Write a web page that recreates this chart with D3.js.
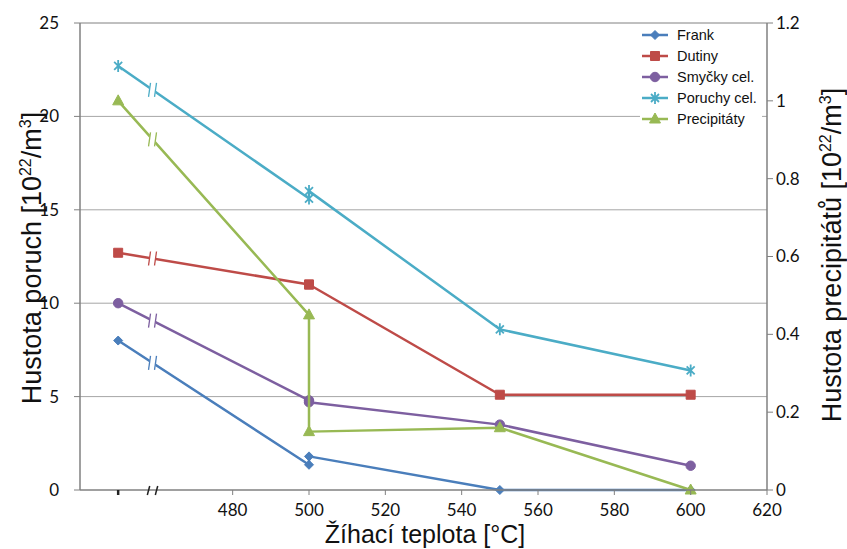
<!DOCTYPE html>
<html lang="cs">
<head>
<meta charset="UTF-8">
<title>Hustota poruch</title>
<script src="https://d3js.org/d3.v7.min.js"></script>
<style>
    body { margin: 0; background: #fff; }
    .tick-label { font-family: Lato, "Open Sans", sans-serif; font-size: 17px; fill: #111; }
    .axis-title { font-family: "Liberation Sans", Arial, sans-serif; font-size: 27px; fill: #111; }
    .x-title { font-size: 25px; }
    .legend-text { font-family: "Liberation Sans", Arial, sans-serif; font-size: 14.5px; fill: #111; }
</style>
</head>
<body>
<svg width="847" height="549"></svg>
<script>
// data (two points at 500 °C for each series)
const temps = [450, 500, 500, 550, 600];
const frank = [8.0, 1.35, 1.8, 0, 0];
const dutiny = [12.7, 11.0, 11.0, 5.1, 5.1];
const smycky = [10.0, 4.8, 4.7, 3.5, 1.3];
const poruchy = [22.7, 15.6, 16.0, 8.6, 6.4];
const precipitaty = [1.0, 0.45, 0.15, 0.16, 0];

const xTicks = [480, 500, 520, 540, 560, 580, 600, 620];
const leftTicks = [0, 5, 10, 15, 20, 25];
const rightTicks = [0, 0.2, 0.4, 0.6, 0.8, 1, 1.2];
const breakAt = 459;

const series = [
    { name: "Frank", values: frank, color: "#4a7ebb", marker: "diamond", axis: "left" },
    { name: "Dutiny", values: dutiny, color: "#be4b48", marker: "square", axis: "left" },
    { name: "Smyčky cel.", values: smycky, color: "#7d5fa0", marker: "circle", axis: "left" },
    { name: "Poruchy cel.", values: poruchy, color: "#4bacc6", marker: "star", axis: "left" },
    { name: "Precipitáty", values: precipitaty, color: "#98b954", marker: "triangle", axis: "right" }
];

const pLeft = 80, pRight = 767, pTop = 23, pBottom = 490;
const svg = d3.select("svg");

const x = d3.scaleLinear().domain([440, 620]).range([pLeft, pRight]);
const yL = d3.scaleLinear().domain([0, 25]).range([pBottom, pTop]);
const yR = d3.scaleLinear().domain([0, 1.2]).range([pBottom, pTop]);

// gridlines
svg.append("g").selectAll("line")
    .data(leftTicks.filter(d => d > 0))
    .join("line")
    .attr("x1", pLeft).attr("x2", pRight)
    .attr("y1", d => yL(d)).attr("y2", d => yL(d))
    .attr("stroke", d => d === 25 ? "#808080" : "#a6a6a6")
    .attr("stroke-width", 1);

function markerPath(type) {
    if (type === "diamond") return "M0,-4.5L4.5,0L0,4.5L-4.5,0Z";
    if (type === "square") return "M-4.5,-4.5H4.5V4.5H-4.5Z";
    if (type === "triangle") return "M0,-6L5.5,4L-5.5,4Z";
    if (type === "circle") return d3.symbol(d3.symbolCircle, 70)();
    return "M-4,-4L4,4M-4,4L4,-4M0,-6V6";
}

series.forEach(s => {
    const y = s.axis === "left" ? yL : yR;
    const pts = temps.map((t, i) => [x(t), y(s.values[i])]);
    const g = svg.append("g");
    g.append("path")
        .attr("d", d3.line()(pts))
        .attr("fill", "none")
        .attr("stroke", s.color)
        .attr("stroke-width", 2.5)
        .attr("stroke-linejoin", "round");

    // axis break on the first segment
    const bx = x(breakAt);
    const t = (breakAt - temps[0]) / (temps[1] - temps[0]);
    const by = pts[0][1] + (pts[1][1] - pts[0][1]) * t;
    g.append("path")
        .attr("d", `M${bx - 4.5},${by + 8}L${bx - 2},${by - 8}L${bx + 4.5},${by - 8}L${bx + 2},${by + 8}Z`)
        .attr("fill", "#fff");
    [-3, 3].forEach(o => {
        g.append("line")
            .attr("x1", bx + o - 1).attr("y1", by + 7)
            .attr("x2", bx + o + 1).attr("y2", by - 7)
            .attr("stroke", s.color).attr("stroke-width", 1.3);
    });

    g.selectAll(".mk").data(pts).join("path")
        .attr("class", "mk")
        .attr("transform", d => `translate(${d[0]},${d[1]})`)
        .attr("d", markerPath(s.marker))
        .attr("fill", s.marker === "star" ? "none" : s.color)
        .attr("stroke", s.color)
        .attr("stroke-width", s.marker === "star" ? 1.8 : 1);
});

// axes
const axisColor = "#808080";
svg.append("line").attr("x1", pLeft).attr("x2", pLeft).attr("y1", pTop).attr("y2", pBottom)
    .attr("stroke", axisColor).attr("stroke-width", 1.5);
svg.append("line").attr("x1", pRight).attr("x2", pRight).attr("y1", pTop).attr("y2", pBottom)
    .attr("stroke", axisColor).attr("stroke-width", 1.5);
svg.append("line").attr("x1", pLeft).attr("x2", pRight).attr("y1", pBottom).attr("y2", pBottom)
    .attr("stroke", axisColor).attr("stroke-width", 1.5);

// left ticks
const gl = svg.append("g");
gl.selectAll("line").data(leftTicks).join("line")
    .attr("x1", pLeft - 6).attr("x2", pLeft)
    .attr("y1", d => yL(d)).attr("y2", d => yL(d))
    .attr("stroke", axisColor);
gl.selectAll("text").data(leftTicks).join("text")
    .attr("class", "tick-label")
    .attr("x", pLeft - 21).attr("y", d => yL(d))
    .attr("dy", "0.35em")
    .attr("text-anchor", "end")
    .text(d => d);

// right ticks
const gr = svg.append("g");
gr.selectAll("line").data(rightTicks).join("line")
    .attr("x1", pRight).attr("x2", pRight + 6)
    .attr("y1", d => yR(d)).attr("y2", d => yR(d))
    .attr("stroke", axisColor);
gr.selectAll("text").data(rightTicks).join("text")
    .attr("class", "tick-label")
    .attr("x", pRight + 9).attr("y", d => yR(d))
    .attr("dy", "0.35em")
    .text(d => d);

// bottom ticks
const gb = svg.append("g");
gb.selectAll("line").data(xTicks).join("line")
    .attr("x1", d => x(d)).attr("x2", d => x(d))
    .attr("y1", pBottom).attr("y2", pBottom + 5)
    .attr("stroke", axisColor);
gb.selectAll("text").data(xTicks).join("text")
    .attr("class", "tick-label")
    .attr("x", d => x(d)).attr("y", pBottom + 26)
    .attr("text-anchor", "middle")
    .text(d => d);
// tick of the first temperature and break marks on the axis
gb.append("line")
    .attr("x1", x(temps[0])).attr("x2", x(temps[0]))
    .attr("y1", pBottom).attr("y2", pBottom + 5)
    .attr("stroke", "#222").attr("stroke-width", 2.5);
[-4, 4].forEach(o => {
    gb.append("line")
        .attr("x1", x(breakAt) + o - 1.2).attr("y1", pBottom + 5)
        .attr("x2", x(breakAt) + o + 1.2).attr("y2", pBottom - 4)
        .attr("stroke", "#222").attr("stroke-width", 1.5);
});

// axis titles
function unitTitle(sel, label) {
    sel.append("tspan").text(label + " [10");
    sel.append("tspan").attr("dy", -10).attr("font-size", "16px").text("22");
    sel.append("tspan").attr("dy", 10).text("/m");
    sel.append("tspan").attr("dy", -10).attr("font-size", "16px").text("3");
    sel.append("tspan").attr("dy", 10).text("]");
}
const tl = svg.append("text").attr("class", "axis-title")
    .attr("transform", "translate(41,258) rotate(-90)")
    .attr("text-anchor", "middle");
unitTitle(tl, "Hustota poruch");
const tr = svg.append("text").attr("class", "axis-title")
    .attr("transform", "translate(841,255) rotate(-90)")
    .attr("text-anchor", "middle");
unitTitle(tr, "Hustota precipitátů");
svg.append("text").attr("class", "axis-title x-title")
    .attr("x", 425).attr("y", 543)
    .attr("text-anchor", "middle")
    .text("Žíhací teplota [°C]");

// legend
const lg = svg.append("g").attr("transform", "translate(640,25)");
lg.append("rect").attr("x", 0).attr("y", 0).attr("width", 122).attr("height", 104).attr("fill", "#fff");
series.forEach((s, i) => {
    const row = lg.append("g").attr("transform", `translate(0,${10 + i * 21})`);
    row.append("line").attr("x1", 2).attr("x2", 28).attr("stroke", s.color).attr("stroke-width", 2.5);
    row.append("path").attr("transform", "translate(15,0)")
        .attr("d", markerPath(s.marker))
        .attr("fill", s.marker === "star" ? "none" : s.color)
        .attr("stroke", s.color)
        .attr("stroke-width", s.marker === "star" ? 1.8 : 1);
    row.append("text").attr("class", "legend-text")
        .attr("x", 37).attr("dy", "0.35em").text(s.name);
});
</script>
</body>
</html>
